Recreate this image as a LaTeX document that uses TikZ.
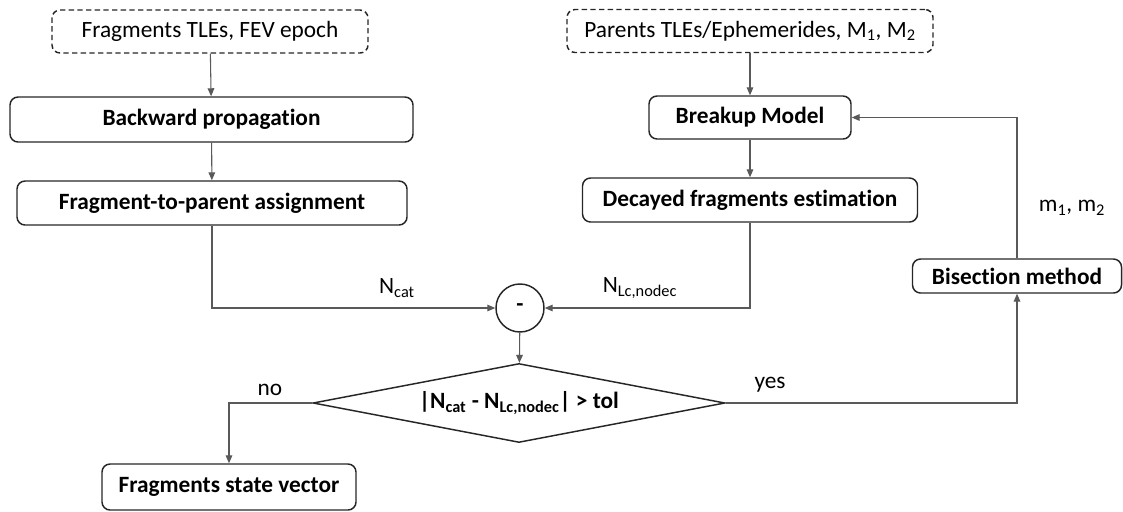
\documentclass[tikz,border=0pt]{standalone}
\usepackage{fontspec}
\setmainfont{Carlito}[Ligatures=NoCommon]
\usetikzlibrary{shapes.geometric,arrows.meta}

\tikzset{
    block/.style={draw=black!85, line width=1.1pt, rounded corners=6pt, inner sep=0pt,
        font=\fontsize{17.5}{20}\selectfont\bfseries},
    source/.style={block, dash pattern=on 4pt off 2.5pt, font=\fontsize{17.5}{20}\selectfont},
    link/.style={draw=black!65, line width=0.8pt, -{Triangle[length=6pt,width=5pt]}},
    tag/.style={font=\fontsize{17.5}{20}\selectfont, inner sep=0pt}
}

\begin{document}
\begin{tikzpicture}[x=0.75pt, y=-0.75pt]
            \useasboundingbox (0,0) rectangle (1123,511);

            % fragments branch
            \node[source, minimum width=237pt, minimum height=32.25pt] (fragin) at (210,31.5) {Fragments TLEs, FEV epoch};
            \node[block, minimum width=302.25pt, minimum height=33.75pt] (backprop) at (211.5,119.5) {Backward propagation};
            \node[block, minimum width=292.5pt, minimum height=33pt] (assign) at (212,203) {Fragment-to-parent assignment};

            % parents branch
            \node[source, minimum width=274.5pt, minimum height=32.25pt] (parin) at (750,31) {Parents TLEs/Ephemerides, M\textsubscript{1}, M\textsubscript{2}};
            \node[block, minimum width=151.5pt, minimum height=32.25pt] (breakup) at (750,117.5) {Breakup Model};
            \node[block, minimum width=251.25pt, minimum height=33pt] (decayed) at (750,200) {Decayed fragments estimation};

            % comparison
            \node[draw=black!85, line width=1.1pt, circle, minimum size=36pt, inner sep=0pt, font=\fontsize{17.5}{20}\selectfont\bfseries] (diff) at (520,308) {-};
            \node[draw=black!85, line width=1.1pt, diamond, aspect=5.2, minimum width=309pt, minimum height=59.25pt, inner sep=0pt,
                font=\fontsize{17.5}{20}\selectfont\bfseries] (check) at (519,403) {|N\textsubscript{cat} - N\textsubscript{Lc,nodec}| > tol};

            \node[block, minimum width=156.75pt, minimum height=25.5pt] (bisect) at (1017,276) {Bisection method};
            \node[block, minimum width=190.5pt, minimum height=34.5pt] (final) at (229,487) {Fragments state vector};

            % arrows
            \draw[link] (fragin) -- (backprop);
            \draw[link] (backprop) -- (assign);
            \draw[link] (parin) -- (breakup);
            \draw[link] (breakup) -- (decayed);
            \draw[link] (assign.south) |- (diff.west);
            \draw[link] (decayed.south) |- (diff.east);
            \draw[link] (diff) -- (check);
            \draw[link] (check.west) -| (final.north);
            \draw[link] (check.east) -| (bisect.south);
            \draw[link] (bisect.north) |- (breakup.east);

            \node[tag] (ncat) at (397,288) {N\textsubscript{cat}};
            \node[tag] (nlc) at (640,288) {N\textsubscript{Lc,nodec}};
            \node[tag] (no) at (270,390) {no};
            \node[tag] (yes) at (770,385) {yes};
            \node[tag] (masses) at (1072,208) {m\textsubscript{1}, m\textsubscript{2}};
        \end{tikzpicture}
\end{document}
